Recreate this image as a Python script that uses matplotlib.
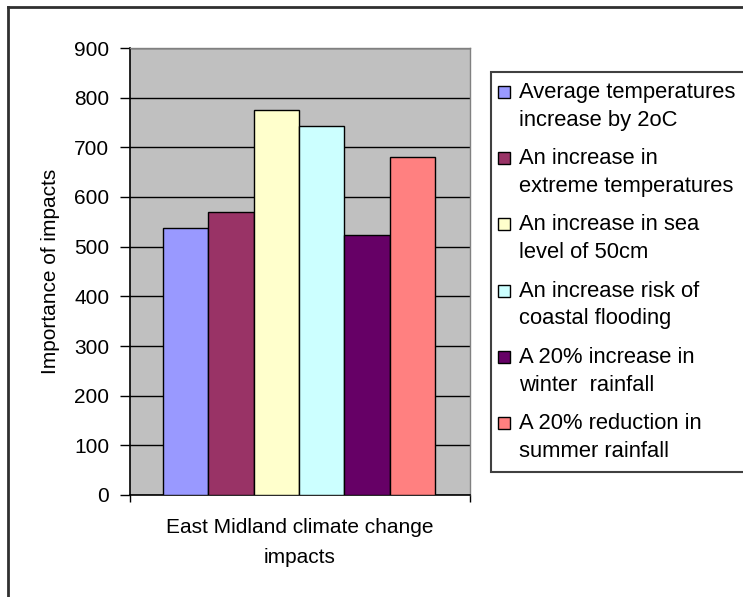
import matplotlib
matplotlib.use('Agg')
import matplotlib.pyplot as plt
from matplotlib.patches import Rectangle
from matplotlib.lines import Line2D

plt.rcParams['font.family'] = ['Liberation Sans', 'DejaVu Sans']

# ── Data ─────────────────────────────────────────────────────────────────────
impacts = [
    'Average temperatures\nincrease by 2oC',
    'An increase in\nextreme temperatures',
    'An increase in sea\nlevel of 50cm',
    'An increase risk of\ncoastal flooding',
    'A 20% increase in\nwinter  rainfall',
    'A 20% reduction in\nsummer rainfall',
]
scores = [538, 570, 775, 742, 523, 680]
colors = ['#9999FF', '#993366', '#FFFFCC', '#CCFFFF', '#660066', '#FF8080']
y_ticks = [0, 100, 200, 300, 400, 500, 600, 700, 800, 900]

W, H = 743, 597
fig = plt.figure(figsize=(W / 100, H / 100), dpi=100)
fig.patch.set_facecolor('white')


def fx(px):
    return px / W


def fy(py):
    return 1 - py / H


# plot area in pixel coords of the reference
ax = fig.add_axes([fx(130), fy(495), fx(470) - fx(130), fy(48) - fy(495)])
ax.set_facecolor('#C0C0C0')

ax.bar(range(len(scores)), scores, width=1.0, color=colors,
       edgecolor='black', linewidth=1, zorder=3)

ax.set_ylim(0, 900)
ax.set_xlim(-1.23, 6.27)
ax.set_yticks(y_ticks)
ax.set_yticklabels([str(v) for v in y_ticks], fontsize=15)
ax.yaxis.grid(True, color='black', linewidth=1)
ax.set_axisbelow(True)
ax.tick_params(axis='y', direction='out', length=7, width=1, pad=8)
ax.set_xticks([-1.23, 6.27])
ax.set_xticklabels(['', ''])
ax.tick_params(axis='x', direction='out', length=5, width=1)

for s in ['left', 'bottom']:
    ax.spines[s].set_color('black')
    ax.spines[s].set_linewidth(1.2)
for s in ['top', 'right']:
    ax.spines[s].set_color('#808080')
    ax.spines[s].set_linewidth(1)

ax.set_ylabel('Importance of impacts', fontsize=15, labelpad=10)
ax.set_xlabel('East Midland climate change\nimpacts', fontsize=15,
              labelpad=8, linespacing=1.75)

# ── Legend (drawn by hand to match the Excel layout) ─────────────────────────
fig.add_artist(Rectangle((fx(491), fy(472)), fx(750) - fx(491), fy(72) - fy(472),
                         transform=fig.transFigure, facecolor='white',
                         edgecolor='#404040', linewidth=1.5, clip_on=False))
for i, (lab, col) in enumerate(zip(impacts, colors)):
    yc = 92 + i * 66.2
    fig.add_artist(Rectangle((fx(498), fy(yc + 6)), fx(12), 12 / H,
                             transform=fig.transFigure, facecolor=col,
                             edgecolor='black', linewidth=1))
    fig.text(fx(519), fy(yc - 10), lab, fontsize=15.8, va='top', ha='left',
             linespacing=1.42)

# outer chart border (only left and top edges are visible in the crop)
fig.add_artist(Line2D([fx(8), fx(8)], [fy(7), 0], transform=fig.transFigure,
                      color='#303030', linewidth=2))
fig.add_artist(Line2D([fx(8), 1], [fy(7), fy(7)], transform=fig.transFigure,
                      color='#303030', linewidth=2))

plt.savefig('out.png', dpi=100, facecolor='white')
plt.close()
